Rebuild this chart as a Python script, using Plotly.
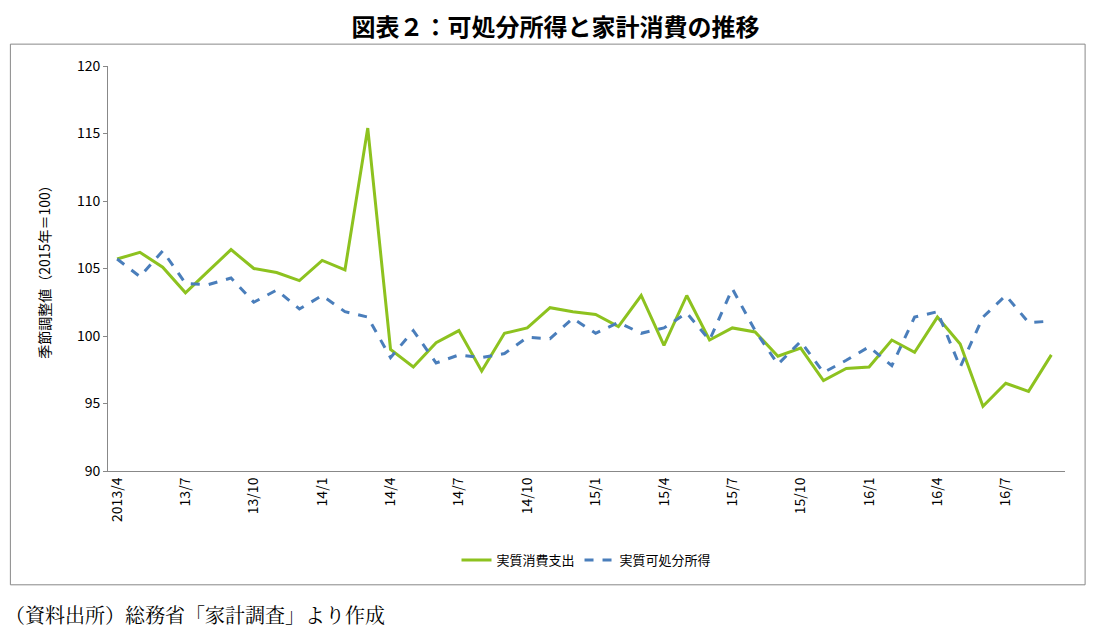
import plotly.graph_objects as go

# 2013/4 .. 2016/9 monthly
months = []
for y in range(2013, 2017):
    for m in range(1, 13):
        if (y == 2013 and m < 4) or (y == 2016 and m > 9):
            continue
        months.append(f"{y}/{m}")

consumption = [105.7, 106.2, 105.1, 103.2, 104.8, 106.4, 105.0, 104.7, 104.1, 105.6,
               104.9, 115.4, 99.0, 97.7, 99.5, 100.4, 97.4, 100.2, 100.6, 102.1,
               101.8, 101.6, 100.7, 103.0, 99.3, 103.0, 99.7, 100.6, 100.3, 98.5,
               99.1, 96.7, 97.6, 97.7, 99.7, 98.8, 101.4, 99.4, 94.8, 96.5,
               95.9, 98.6]
income = [105.7, 104.4, 106.3, 103.9, 103.8, 104.3, 102.5, 103.4, 102.0, 103.0,
          101.8, 101.4, 98.4, 100.4, 98.0, 98.6, 98.4, 98.7, 99.9, 99.8,
          101.3, 100.2, 101.0, 100.2, 100.6, 101.7, 99.7, 103.5, 100.4, 97.9,
          99.6, 97.3, 98.2, 99.2, 97.8, 101.4, 101.8, 97.7, 101.4, 103.0,
          101.0, 101.1]

tick_idx = list(range(0, len(months), 3))
tick_text = ["2013/4"] + [months[i][2:] for i in tick_idx[1:]]

fig = go.Figure()
fig.add_trace(go.Scatter(x=list(range(len(months))), y=consumption, mode="lines",
                         name="実質消費支出", line=dict(color="#8dc21f", width=3)))
fig.add_trace(go.Scatter(x=list(range(len(months))), y=income, mode="lines",
                         name="実質可処分所得", line=dict(color="#4a7ebb", width=3, dash="dash")))

fig.update_layout(
    width=1095, height=642,
    margin=dict(l=100, r=38, t=58, b=179),
    paper_bgcolor="white", plot_bgcolor="white",
    font=dict(family="Noto Sans CJK JP", color="black", size=13),
    title=dict(text="<b>図表２：可処分所得と家計消費の推移</b>", x=0.5, xanchor="center",
               y=0.97, yanchor="middle", font=dict(size=24)),
    legend=dict(orientation="h", x=0.5, xanchor="center", y=-0.22, yanchor="middle",
                font=dict(size=13)),
    xaxis=dict(range=[-0.4, 41.6], tickmode="array", tickvals=tick_idx, ticktext=tick_text,
               tickangle=-90, showgrid=False, showline=True, linecolor="#888", ticks="",
               zeroline=False, tickfont=dict(size=14)),
    yaxis=dict(range=[90, 120], dtick=5, showgrid=False, showline=True, linecolor="#888",
               ticks="outside", ticklen=4, tickcolor="#888", zeroline=False,
               title=dict(text="季節調整値（2015年＝100）", font=dict(size=14), standoff=22),
               tickfont=dict(size=14)),
    shapes=[dict(type="rect", xref="paper", yref="paper", x0=-0.102, x1=1.021,
                 y0=-0.281, y1=1.054, line=dict(color="#888", width=1))],
    annotations=[dict(text="（資料出所）総務省「家計調査」より作成", xref="paper", yref="paper",
                      x=-0.11, y=-0.355, xanchor="left", yanchor="middle", showarrow=False,
                      font=dict(size=20, family="Noto Serif CJK JP, Noto Sans CJK JP"))],
)

fig.write_html("out.html")
